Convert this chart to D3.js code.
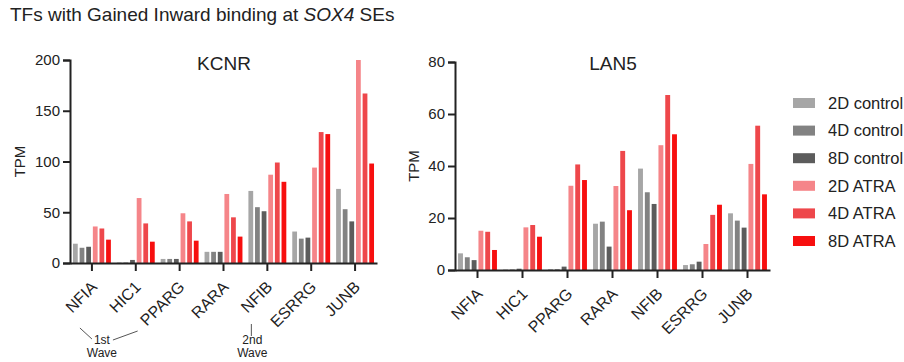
<!DOCTYPE html>
<html>
<head>
<meta charset="utf-8">
<script src="https://cdn.jsdelivr.net/npm/d3@7"></script>
<style>
  body { margin: 0; background: #fff; }
  text { font-family: "Liberation Sans", Arial, sans-serif; fill: #222; }
</style>
</head>
<body>
<div id="chart"></div>
<script>
// Data
const genes = ['NFIA', 'HIC1', 'PPARG', 'RARA', 'NFIB', 'ESRRG', 'JUNB']
const seriesNames = ['2D control', '4D control', '8D control', '2D ATRA', '4D ATRA', '8D ATRA']
const seriesColors = ['#a6a6a6', '#828282', '#5c5c5c', '#f58589', '#ee474b', '#f70f0f']

// one array per series, values in gene order
const kcnrValues = [
  [19, 0.5, 4, 11, 71, 31, 73],
  [15, 0.5, 4, 11, 55, 24, 53],
  [16, 3, 4, 11, 51, 25, 41],
  [36, 64, 49, 68, 87, 94, 200],
  [34, 39, 41, 45, 99, 129, 167],
  [23, 21, 22, 26, 80, 127, 98]
]
const lan5Values = [
  [6.4, 0.2, 0.3, 17.8, 39, 1.9, 21.8],
  [4.9, 0.2, 0.3, 18.6, 29.9, 2.2, 19],
  [3.8, 0.5, 1.3, 9, 25.4, 3.2, 16.3],
  [15.1, 16.4, 32.4, 32.3, 48, 10, 40.8],
  [14.7, 17.3, 40.6, 45.8, 67.3, 21.2, 55.5],
  [7.7, 12.8, 34.6, 23, 52.2, 25.1, 29.1]
]
const kcnrTicks = [0, 50, 100, 150, 200]
const lan5Ticks = [0, 20, 40, 60, 80]

const svg = d3.select('#chart')
  .append('svg')
  .attr('width', 904)
  .attr('height', 362)

// Title
svg.append('text')
  .attr('x', 10)
  .attr('y', 21)
  .style('font-size', '19px')
  .call(t => t.append('tspan').text('TFs with Gained Inward binding at '))
  .call(t => t.append('tspan').style('font-style', 'italic').text('SOX4'))
  .call(t => t.append('tspan').text(' SEs'))

function panel(opts) {
  const { name, values, ticks, left, right, bottom, top, max, titleX, labelX } = opts

  const x = d3.scaleBand()
    .domain(genes)
    .range([left, right])

  const xSub = d3.scaleBand()
    .domain(d3.range(seriesNames.length))
    .range([0, x.bandwidth()])
    .paddingInner(0.28)
    .paddingOuter(0.45)

  const y = d3.scaleLinear()
    .domain([0, max])
    .range([bottom, top])

  const g = svg.append('g')

  // bars
  g.selectAll('g.series')
    .data(values)
    .join('g')
    .attr('fill', (d, i) => seriesColors[i])
    .each(function (vals, si) {
      d3.select(this).selectAll('rect')
        .data(vals)
        .join('rect')
        .attr('x', (d, gi) => x(genes[gi]) + xSub(si))
        .attr('width', xSub.bandwidth())
        .attr('y', d => y(d))
        .attr('height', d => y(0) - y(d))
    })

  // y axis
  const yAxis = g.append('g')
    .attr('transform', `translate(${left}, 0)`)
    .call(d3.axisLeft(y).tickValues(ticks).tickSize(7).tickPadding(3))
  yAxis.select('.domain').attr('stroke', '#222').attr('stroke-width', 2)
  yAxis.selectAll('.tick line').attr('stroke', '#222').attr('stroke-width', 2)
  yAxis.selectAll('.tick text')
    .style('font-size', '15px')
    .attr('fill', '#222')

  // x axis
  const xAxis = g.append('g')
    .attr('transform', `translate(0, ${bottom})`)
    .call(d3.axisBottom(x).tickSize(8).tickSizeOuter(0))
  xAxis.select('.domain').attr('stroke', '#222').attr('stroke-width', 2)
  xAxis.selectAll('.tick line').attr('stroke', '#222').attr('stroke-width', 2)
  xAxis.selectAll('.tick text')
    .style('font-size', '16px')
    .attr('fill', '#222')
    .attr('text-anchor', 'end')
    .attr('y', 0)
    .attr('dy', null)
    .attr('transform', 'translate(6, 25) rotate(-45)')

  // panel title
  g.append('text')
    .attr('x', titleX)
    .attr('y', 70)
    .attr('text-anchor', 'middle')
    .style('font-size', '19px')
    .text(name)

  // y label
  g.append('text')
    .attr('transform', `translate(${labelX}, ${(top + bottom) / 2}) rotate(-90)`)
    .attr('text-anchor', 'middle')
    .attr('dy', '0.35em')
    .style('font-size', '15px')
    .text('TPM')

  return x
}

const xK = panel({
  name: 'KCNR', values: kcnrValues, ticks: kcnrTicks,
  left: 70, right: 377, bottom: 263, top: 60, max: 200,
  titleX: 224, labelX: 20
})

panel({
  name: 'LAN5', values: lan5Values, ticks: lan5Ticks,
  left: 455, right: 770, bottom: 270, top: 62, max: 80,
  titleX: 613, labelX: 414
})

// Wave annotations (KCNR only)
const mid = gene => xK(gene) + xK.bandwidth() / 2
const ann = svg.append('g')
  .attr('stroke', '#555')
  .attr('stroke-width', 1)

ann.append('line')
  .attr('x1', mid('NFIA') - 12).attr('y1', 328)
  .attr('x2', mid('NFIA')).attr('y2', 339)
ann.append('line')
  .attr('x1', mid('NFIA') + 21).attr('y1', 340)
  .attr('x2', mid('PPARG') - 42).attr('y2', 331)
ann.append('line')
  .attr('x1', mid('NFIB') - 16).attr('y1', 324)
  .attr('x2', mid('NFIB') - 16).attr('y2', 336)

const waveLabels = [
  { x: mid('NFIA') + 10, lines: ['1st', 'Wave'] },
  { x: mid('NFIB') - 15, lines: ['2nd', 'Wave'] }
]
svg.selectAll('text.wave')
  .data(waveLabels)
  .join('text')
  .attr('class', 'wave')
  .attr('text-anchor', 'middle')
  .style('font-size', '12px')
  .attr('fill', '#444')
  .selectAll('tspan')
  .data(d => d.lines.map((l, i) => ({ l, i, x: d.x })))
  .join('tspan')
  .attr('x', d => d.x)
  .attr('y', d => 344 + d.i * 13)
  .text(d => d.l)

// Legend
const legend = svg.append('g')
  .attr('transform', 'translate(793, 98)')

const items = legend.selectAll('g')
  .data(seriesNames)
  .join('g')
  .attr('transform', (d, i) => `translate(0, ${i * 27.6})`)

items.append('rect')
  .attr('width', 22)
  .attr('height', 10)
  .attr('fill', (d, i) => seriesColors[i])

items.append('text')
  .attr('x', 35)
  .attr('y', 5)
  .attr('dy', '0.35em')
  .style('font-size', '16.5px')
  .text(d => d)
</script>
</body>
</html>
